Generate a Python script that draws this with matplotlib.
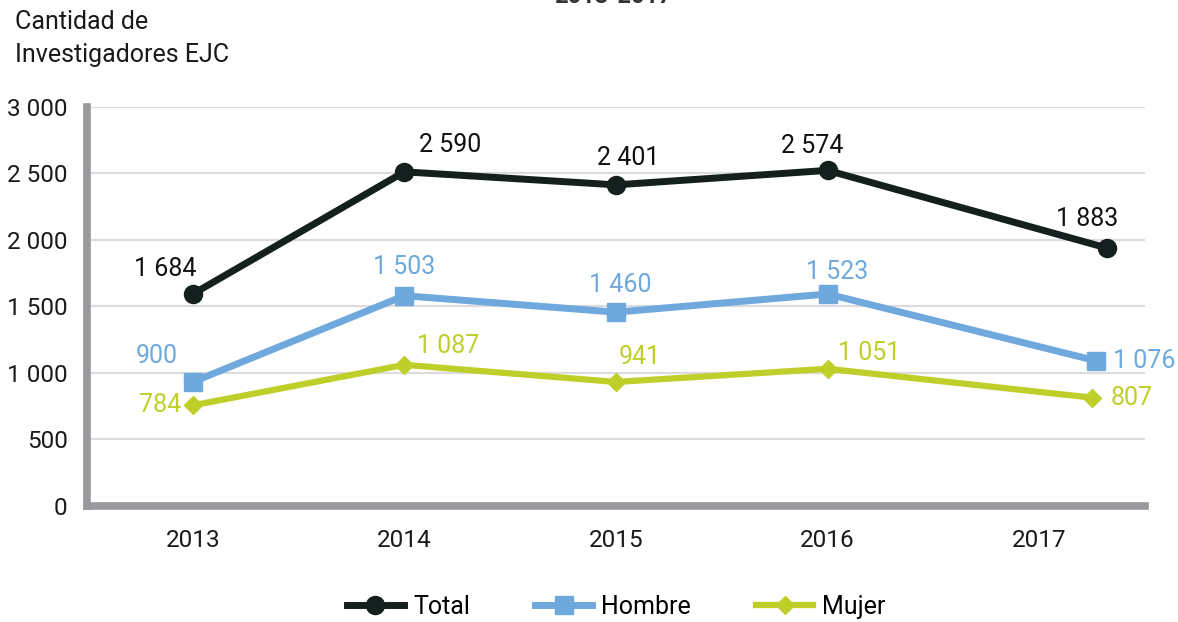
import matplotlib
matplotlib.use("Agg")
import matplotlib.pyplot as plt
import numpy as np

# Investigadores EJC 2013-2017, por sexo
years = ["2013", "2014", "2015", "2016", "2017"]

# plotted positions as drawn in the original (last point sits right of its tick)
x_total = [0, 1, 2, 3, 4.32]
x_hombre = [0, 1, 2, 3, 4.27]
x_mujer = [0, 1, 2, 3, 4.25]

total = [1593, 2512, 2414, 2523, 1939]
hombre = [931, 1580, 1456, 1593, 1090]
mujer = [755, 1060, 931, 1030, 813]

# printed labels
total_lbl = ["1 684", "2 590", "2 401", "2 574", "1 883"]
hombre_lbl = ["900", "1 503", "1 460", "1 523", "1 076"]
mujer_lbl = ["784", "1 087", "941", "1 051", "807"]

yticks = [0, 500, 1000, 1500, 2000, 2500, 3000]

c_total = "#14201e"
c_hombre = "#6fa8dc"
c_mujer = "#bfcf2a"
c_axis = "#9a999e"
c_grid = "#dcdce0"

plt.rcParams["font.family"] = ["Roboto", "DejaVu Sans"]

fig = plt.figure(figsize=(11.78, 6.22), dpi=100)
ax = fig.add_axes([0.0739, 0.187, 0.898, 0.641])

ax.set_xlim(-0.5, 4.5)
ax.set_ylim(0, 3000)
ax.set_yticks(yticks)
ax.set_yticklabels([f"{v:,}".replace(",", " ") for v in yticks])
ax.set_xticks(range(len(years)))
ax.set_xticklabels(years)
ax.tick_params(length=0, labelsize=17.5, colors="#1a1a1a")
ax.tick_params(axis="y", pad=14)
ax.tick_params(axis="x", pad=17)

for s in ["top", "right"]:
    ax.spines[s].set_visible(False)
for s in ["left", "bottom"]:
    ax.spines[s].set_color(c_axis)
    ax.spines[s].set_linewidth(5.5)
    ax.spines[s].set_zorder(4)

for v in yticks[1:]:
    ax.axhline(v, color=c_grid, lw=1.6, zorder=0)

ax.plot(x_total, total, color=c_total, lw=5, marker="o", ms=13, label="Total", zorder=3)
ax.plot(x_hombre, hombre, color=c_hombre, lw=5, marker="s", ms=13, label="Hombre", zorder=3)
ax.plot(x_mujer, mujer, color=c_mujer, lw=4.5, marker="D", ms=9, label="Mujer", zorder=3)

# label offsets in pixels (dx, dy)
off_total = [(-28, 25), (46, 27), (12, 27), (-15, 24), (-20, 29)]
off_hombre = [(-36, 26), (0, 29), (4, 27), (10, 22), (48, 0)]
off_mujer = [(-33, 0), (44, 19), (24, 25), (42, 16), (40, 0)]

for xs, ys, lbls, offs, col in [
    (x_total, total, total_lbl, off_total, "#111111"),
    (x_hombre, hombre, hombre_lbl, off_hombre, c_hombre),
    (x_mujer, mujer, mujer_lbl, off_mujer, c_mujer),
]:
    for x, y, t, o in zip(xs, ys, lbls, offs):
        ax.annotate(t, (x, y), xytext=o, textcoords="offset pixels",
                    ha="center", va="center", fontsize=18, color=col)

fig.text(15 / 1178, 1 - 22 / 622, "Cantidad de", fontsize=18, va="center", color="#1a1a1a")
fig.text(15 / 1178, 1 - 55 / 622, "Investigadores EJC", fontsize=18, va="center", color="#1a1a1a")
fig.text(0.52, 1 - 3 / 622, "2013-2017", fontsize=17, ha="center", va="baseline",
         color="#333333", fontweight="bold")

leg = fig.legend(loc="center", bbox_to_anchor=(0.523, 1 - 607 / 622), ncol=3,
                 frameon=False, fontsize=18, handlelength=2.3, columnspacing=2.6,
                 handletextpad=0.35)

fig.savefig("out.png", dpi=100)
